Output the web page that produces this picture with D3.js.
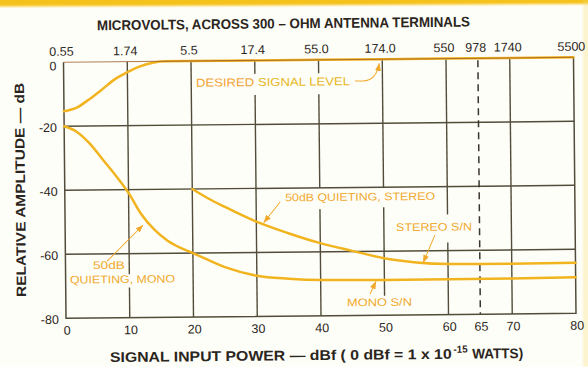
<!DOCTYPE html>
<html>
<head>
<meta charset="utf-8">
<script src="https://cdn.jsdelivr.net/npm/d3@7"></script>
<style>
  html, body { margin: 0; padding: 0; background: #fefef9; }
  svg { display: block; }
  text { font-family: "Liberation Sans", Arial, sans-serif; }
</style>
</head>
<body>
<svg id="chart" width="588" height="367"></svg>
<script>
// Signal input power (dBf) and the relative amplitude (dB) of each curve
const desiredX = [0, 2, 4, 6, 8, 10, 12, 14, 16, 20, 30, 40, 50, 60, 70, 80];
const desiredY = [-15.3, -14.2, -11.6, -8.6, -5.5, -3.3, -1.5, -0.4, 0, 0, 0, 0, 0, 0, 0, 0];

const monoX = [0, 2, 4, 6, 8, 10, 12, 14, 16, 18, 20, 25, 30, 35, 40, 50, 60, 70, 80];
const monoY = [-20, -21.8, -25.5, -30.5, -35.5, -41, -47.8, -52.6, -56, -58.3, -60, -64.5, -67.3, -68.3, -68.8, -69, -69, -68.9, -68.7];

const stereoX = [20, 22.5, 25, 30, 35, 40, 45, 50, 55, 60, 65, 70, 80];
const stereoY = [-40, -43, -45.6, -50.4, -54.1, -57.3, -59.8, -62.2, -63.6, -64.2, -64.3, -64.3, -64.2];

// Axis ticks
const dbfTicks = [0, 10, 20, 30, 40, 50, 60, 65, 70, 80];
const microvoltLabels = ["0.55", "1.74", "5.5", "17.4", "55.0", "174.0", "550", "978", "1740", "5500"];
const dbTicks = [0, -20, -40, -60, -80];
const gridX = [10, 20, 30, 40, 50, 60, 70];
const gridY = [-20, -40, -60];
const markerX = 65;

const svg = d3.select("#chart");
const L = 64.75, T = 59.8, W = 510, H = 256;
const x = d3.scaleLinear().domain([0, 80]).range([L, L + W]);
const y = d3.scaleLinear().domain([-80, 0]).range([T + H, T]);

const ink = "#2b2520";
const gridColor = "#524d3a";
const curveColor = "#f1b41f";
const noteColor = "#f0a92c";

const defs = svg.append("defs");
defs.append("marker")
  .attr("id", "head")
  .attr("markerUnits", "userSpaceOnUse")
  .attr("markerWidth", 8).attr("markerHeight", 6)
  .attr("refX", 7.5).attr("refY", 3)
  .attr("orient", "auto")
  .append("path").attr("d", "M0,0 L8,3 L0,6 Z").attr("fill", noteColor);
defs.append("filter").attr("id", "soft")
  .append("feGaussianBlur").attr("stdDeviation", 0.9);

// yellow band along the top edge
svg.append("path")
  .attr("d", "M-5,-5 L593,-5 L593,4 L-5,6.5 Z")
  .attr("fill", "#f5c21a")
  .attr("filter", "url(#soft)");
// faint yellow edge on the right
svg.append("rect")
  .attr("x", 583).attr("y", 0).attr("width", 6).attr("height", 367)
  .attr("fill", "#f7e07a").attr("opacity", 0.35)
  .attr("filter", "url(#soft)");

const g = svg.append("g").attr("transform", "rotate(-0.56, 319.75, 187.8)");

// vertical grid lines, broken where annotation text crosses them
const gaps = {
  10: [[-66.4, -70.6]],
  30: [[-4.2, -10.8]],
  40: [[-4.2, -10.8], [-40, -46.7]],
  50: [[-40, -46.3], [-73.9, -80]],
  60: [[-48.7, -57.5]]
};
gridX.forEach(v => {
  const cuts = (gaps[v] || []).slice().sort((a, b) => b[0] - a[0]);
  let top = 0;
  const segs = [];
  cuts.forEach(([a, b]) => { segs.push([top, a]); top = b; });
  segs.push([top, -80]);
  segs.filter(s => s[0] > s[1]).forEach(([a, b]) => {
    g.append("line")
      .attr("x1", x(v)).attr("x2", x(v))
      .attr("y1", y(a)).attr("y2", y(b))
      .attr("stroke", gridColor).attr("stroke-width", 1.4);
  });
});

gridY.forEach(v => {
  g.append("line")
    .attr("x1", x(0)).attr("x2", x(80))
    .attr("y1", y(v)).attr("y2", y(v))
    .attr("stroke", gridColor).attr("stroke-width", 1.4);
});

g.append("line")
  .attr("x1", x(markerX)).attr("x2", x(markerX))
  .attr("y1", y(0) + 2).attr("y2", y(-80))
  .attr("stroke", "#3a3530").attr("stroke-width", 1.5)
  .attr("stroke-dasharray", "7,5");

// frame: left, right, bottom
g.append("path")
  .attr("d", `M${x(0)},${y(0)} L${x(0)},${y(-80)} L${x(80)},${y(-80)} L${x(80)},${y(0)}`)
  .attr("fill", "none").attr("stroke", gridColor).attr("stroke-width", 1.5);

// curves
const line = d3.line().x(d => x(d[0])).y(d => y(d[1])).curve(d3.curveMonotoneX);
const curves = [
  d3.zip(desiredX, desiredY),
  d3.zip(monoX, monoY),
  d3.zip(stereoX, stereoY)
];
curves.forEach(pts => {
  g.append("path").attr("d", line(pts))
    .attr("fill", "none").attr("stroke", curveColor)
    .attr("stroke-width", 2.5).attr("stroke-linecap", "round");
});
// top edge of the frame drawn over the 0 dB level
g.append("line")
  .attr("x1", x(0)).attr("x2", x(80)).attr("y1", y(0)).attr("y2", y(0))
  .attr("stroke", "#9a5a28").attr("stroke-width", 1.1).attr("opacity", 0.75);

// tick labels
g.selectAll(".bt").data(dbfTicks).join("text")
  .attr("x", d => x(d) + 1).attr("y", T + H + 16.5)
  .attr("text-anchor", "middle").attr("font-size", 12.5).attr("fill", ink)
  .text(d => d);

g.selectAll(".tt").data(dbfTicks).join("text")
  .attr("x", d => x(d) - 2).attr("y", T - 6.5)
  .attr("text-anchor", "middle").attr("font-size", 12.5).attr("fill", ink)
  .text((d, i) => microvoltLabels[i]);

g.selectAll(".lt").data(dbTicks).join("text")
  .attr("x", L - 7.2).attr("y", d => y(d) + (d === 0 ? 8 : 5.5))
  .attr("text-anchor", "end").attr("font-size", 12.5).attr("fill", ink)
  .text(d => d === 0 ? "0" : "-" + Math.abs(d));

// axis titles
g.append("text")
  .attr("x", 98.6).attr("y", 28)
  .attr("font-size", 14).attr("font-weight", "bold").attr("fill", ink)
  .attr("textLength", 373).attr("lengthAdjust", "spacingAndGlyphs")
  .text("MICROVOLTS, ACROSS 300 – OHM ANTENNA TERMINALS");

g.append("text")
  .attr("transform", "translate(25,187) rotate(-90)")
  .attr("text-anchor", "middle")
  .attr("font-size", 13.5).attr("font-weight", "bold").attr("fill", ink)
  .attr("textLength", 214).attr("lengthAdjust", "spacingAndGlyphs")
  .text("RELATIVE AMPLITUDE — dB");

g.append("text")
  .attr("x", 108.3).attr("y", 360)
  .attr("font-size", 14).attr("font-weight", "bold").attr("fill", ink)
  .attr("textLength", 341.7).attr("lengthAdjust", "spacingAndGlyphs")
  .text("SIGNAL INPUT POWER — dBf ( 0 dBf = 1 x 10");
g.append("text")
  .attr("x", 452).attr("y", 354)
  .attr("font-size", 10).attr("font-weight", "bold").attr("fill", ink)
  .attr("textLength", 14).attr("lengthAdjust", "spacingAndGlyphs")
  .text("-15");
g.append("text")
  .attr("x", 470.5).attr("y", 360)
  .attr("font-size", 14).attr("font-weight", "bold").attr("fill", ink)
  .attr("textLength", 51).attr("lengthAdjust", "spacingAndGlyphs")
  .text("WATTS)");

// curve annotations
const notes = [
  { t: "50dB QUIETING, STEREO", x: 285, y: 201, len: 150 },
  { t: "STEREO S/N", x: 395.6, y: 231.8, len: 76 },
  { t: "50dB", x: 92.2, y: 266.9, len: 32 },
  { t: "QUIETING, MONO", x: 69.1, y: 281.1, len: 105 },
  { t: "MONO S/N", x: 345.8, y: 306.6, len: 65 }
];
notes.forEach(n => {
  g.append("text").attr("x", n.x).attr("y", n.y)
    .attr("font-size", 11).attr("fill", noteColor)
    .attr("textLength", n.len).attr("lengthAdjust", "spacingAndGlyphs")
    .text(n.t);
});
const desired = g.append("text").attr("x", 197).attr("y", 85.5)
  .attr("font-size", 11.5)
  .attr("textLength", 154).attr("lengthAdjust", "spacingAndGlyphs");
desired.append("tspan").attr("fill", "#f2a336").text("DESIRED ");
desired.append("tspan").attr("fill", "#e6b81e").text("SIGNAL LEVEL");

// leader arrows
const arrows = [
  "M356,81.4 L364,81.4 C372,81.4 378,77 380.5,64",
  "M280,201.6 L263.5,222",
  "M434.5,236 L422.5,263.5",
  "M106.5,259 L142.5,223.5",
  "M369,294.5 L375,282"
];
arrows.forEach(d => {
  g.append("path").attr("d", d)
    .attr("fill", "none").attr("stroke", noteColor).attr("stroke-width", 1)
    .attr("marker-end", "url(#head)");
});
</script>
</body>
</html>
